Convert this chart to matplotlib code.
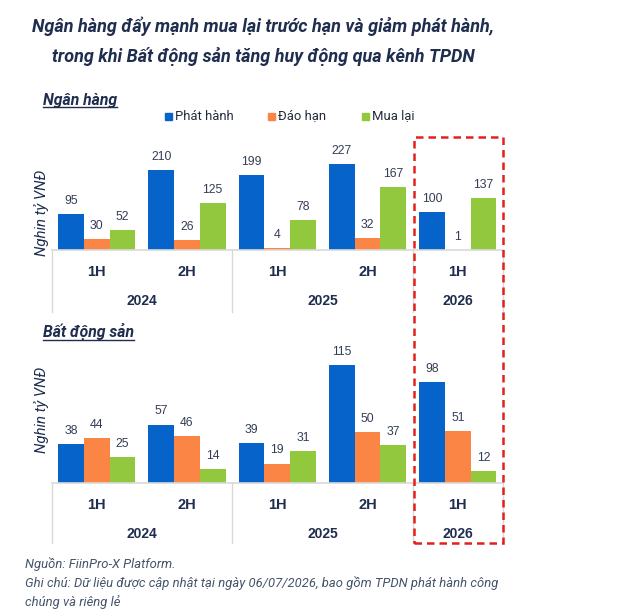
import numpy as np
import matplotlib
matplotlib.use("Agg")
import matplotlib.pyplot as plt
from matplotlib.patches import Rectangle
from matplotlib.lines import Line2D

# data
periods = ["1H", "2H", "1H", "2H", "1H"]
years = ["2024", "2025", "2026"]
year_span = [(0, 1), (2, 3), (4, 4)]
series = ["Phát hành", "Đáo hạn", "Mua lại"]

bank_issue = [95, 210, 199, 227, 100]
bank_mature = [30, 26, 4, 32, 1]
bank_buyback = [52, 125, 78, 167, 137]

re_issue = [38, 57, 39, 115, 98]
re_mature = [44, 46, 19, 50, 51]
re_buyback = [25, 14, 31, 37, 12]

colors = ["#0563C9", "#FA8544", "#92C83E"]
navy = "#1F2D4F"
grey_line = "#D9D9D9"

W, H = 633, 616
fig = plt.figure(figsize=(W / 100, H / 100), dpi=100)


def px_axes(left, top, right, bottom):
    return fig.add_axes([left / W, 1 - bottom / H, (right - left) / W, (bottom - top) / H])


def draw_panel(ax, vals, ymax, depth_px, ax_h_px):
    x = np.arange(len(periods))
    w = 0.285
    for k, v in enumerate(vals):
        bars = ax.bar(x + (k - 1) * w, v, w, color=colors[k], zorder=2)
        for b, val in zip(bars, v):
            ax.annotate(str(val), (b.get_x() + b.get_width() / 2, b.get_height()),
                        xytext=(0, 9.4), textcoords="offset points",
                        ha="center", va="center", fontsize=8.8,
                        family="Liberation Sans", color="#333D55")
    ax.set_xlim(-0.5, len(periods) - 0.5)
    ax.set_ylim(0, ymax)
    ax.axis("off")
    tr = ax.get_xaxis_transform()
    ax.plot([-0.5, 4.5], [0, 0], color=grey_line, lw=1.2, transform=tr, clip_on=False, zorder=3)
    d = -depth_px / ax_h_px
    for sx in [-0.5, 1.5, 3.5, 4.5]:
        ax.plot([sx, sx], [0, d], color=grey_line, lw=1, transform=tr, clip_on=False)
    for i, p in enumerate(periods):
        ax.text(i, -22 / ax_h_px, p, transform=tr, ha="center", va="center",
                fontsize=10.5, fontweight="bold", family="Liberation Sans", color=navy)
    for yr, (a, b) in zip(years, year_span):
        ax.text((a + b) / 2, -51 / ax_h_px, yr, transform=tr, ha="center", va="center",
                fontsize=10, fontweight="bold", family="Liberation Sans", color=navy)


# top panel: Ngan hang
ax1 = px_axes(51.5, 140, 503, 250)
draw_panel(ax1, [bank_issue, bank_mature, bank_buyback], 110 / 0.379, 62, 110)

# bottom panel: Bat dong san
ax2 = px_axes(51.5, 350, 503, 483)
draw_panel(ax2, [re_issue, re_mature, re_buyback], 133 / 1.026, 60, 133)

# title
fig.text(263 / W, 1 - 26 / H, "Ngân hàng đẩy mạnh mua lại trước hạn và giảm phát hành,",
         ha="center", va="center", fontsize=13, fontweight="bold", style="italic",
         family="Roboto", color=navy)
fig.text(263 / W, 1 - 57 / H, "trong khi Bất động sản tăng huy động qua kênh TPDN",
         ha="center", va="center", fontsize=13, fontweight="bold", style="italic",
         family="Roboto", color=navy)

# section titles with underline
sub_texts = []
for txt, y in [("Ngân hàng", 100), ("Bất động sản", 332)]:
    t = fig.text(43 / W, 1 - y / H, txt, ha="left", va="center", fontsize=11.3,
                 fontweight="bold", style="italic", family="Roboto", color=navy)
    sub_texts.append((t, y))
fig.canvas.draw()
r = fig.canvas.get_renderer()
for t, y in sub_texts:
    bb = t.get_window_extent(r)
    yy = bb.y0 + 1
    fig.add_artist(Line2D([bb.x0 / W, bb.x1 / W], [yy / H, yy / H], color=navy, lw=1))

# legend
leg_x = [165, 268, 362]
for k, name in enumerate(series):
    fig.add_artist(Rectangle((leg_x[k] / W, 1 - 120 / H), 7 / W, 7 / H, color=colors[k]))
    fig.text((leg_x[k] + 10) / W, 1 - 116 / H, name, ha="left", va="center",
             fontsize=9.4, family="Roboto", color="#222A3A")

# y labels
for y in [213, 410]:
    fig.text(42 / W, 1 - y / H, "Nghin tỷ VNĐ", rotation=90, ha="center", va="center",
             fontsize=10.8, style="italic", family="Roboto", color=navy)

# red dashed highlight
fig.add_artist(Rectangle((414 / W, 1 - 543 / H), 89 / W, 406 / H, fill=False,
                         edgecolor="#E3211C", lw=1.8, linestyle=(0, (3, 2))))

# notes
notes = ["Nguồn: FiinPro-X Platform.",
         "Ghi chú: Dữ liệu được cập nhật tại ngày 06/07/2026, bao gồm TPDN phát hành công",
         "chúng và riêng lẻ"]
for txt, y in zip(notes, [564, 583, 602]):
    fig.text(25 / W, 1 - y / H, txt, ha="left", va="center", fontsize=9.35,
             style="italic", family="Roboto", color="#44546A")

fig.savefig("out.png", dpi=100)
